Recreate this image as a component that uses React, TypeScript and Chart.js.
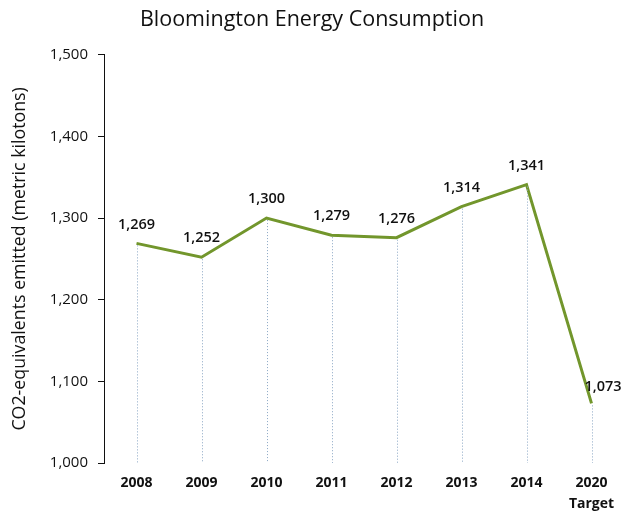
import React, { useEffect, useRef } from "react";
import { Chart, registerables } from "chart.js";

Chart.register(...registerables);

const categories: (string | string[])[] = ["2008", "2009", "2010", "2011", "2012", "2013", "2014", ["2020", "Target"]];
const emissions: number[] = [1269, 1252, 1300, 1279, 1276, 1314, 1341, 1073];
const yTicks: number[] = [1000, 1100, 1200, 1300, 1400, 1500];

const FONT = "'Open Sans', 'Liberation Sans', sans-serif";

const dropLinesAndLabels = {
  id: "dropLinesAndLabels",
  afterDatasetsDraw(chart: any) {
    const ctx = chart.ctx;
    const meta = chart.getDatasetMeta(0);
    const bottom = chart.chartArea.bottom;
    const data = chart.data.datasets[0].data as number[];
    ctx.save();
    ctx.strokeStyle = "#8aa6c4";
    ctx.lineWidth = 1;
    ctx.setLineDash([1, 2]);
    meta.data.forEach((pt: any) => {
      ctx.beginPath();
      ctx.moveTo(Math.round(pt.x) + 0.5, pt.y + 2);
      ctx.lineTo(Math.round(pt.x) + 0.5, bottom);
      ctx.stroke();
    });
    ctx.setLineDash([]);
    ctx.fillStyle = "#111";
    ctx.font = `600 14.5px ${FONT}`;
    ctx.textBaseline = "middle";
    meta.data.forEach((pt: any, i: number) => {
      const label = data[i].toLocaleString("en-US");
      if (i === meta.data.length - 1) {
        ctx.textAlign = "left";
        ctx.fillText(label, pt.x - 7, pt.y - 17);
      } else {
        ctx.textAlign = "center";
        ctx.fillText(label, pt.x, pt.y - 19);
      }
    });
    ctx.restore();
  },
};

export default function App() {
  const ref = useRef<HTMLCanvasElement>(null);
  useEffect(() => {
    if (!ref.current) return;
    const chart = new Chart(ref.current, {
      type: "line",
      data: {
        labels: categories,
        datasets: [
          {
            data: emissions,
            borderColor: "#72962c",
            borderWidth: 3,
            pointRadius: 0,
            tension: 0,
            fill: false,
          },
        ],
      },
      options: {
        animation: false,
        responsive: false,
        maintainAspectRatio: false,
        layout: { padding: { right: 6, left: 0, top: 0, bottom: 0 } },
        plugins: {
          legend: { display: false },
          tooltip: { enabled: false },
          title: {
            display: true,
            text: "Bloomington Energy Consumption",
            color: "#111",
            font: { family: FONT, size: 21.5, weight: "normal" },
            padding: { top: 7, bottom: 22 },
          },
        },
        scales: {
          x: {
            type: "category",
            offset: true,
            grid: { display: false, drawTicks: false },
            border: { display: false },
            ticks: {
              color: "#111",
              font: { family: FONT, size: 14, weight: "bold", lineHeight: 1.5 },
              padding: 10,
              maxRotation: 0,
              autoSkip: false,
            },
            afterFit: (scale: any) => {
              scale.height = 50;
            },
          },
          y: {
            min: 1000,
            max: 1500,
            afterBuildTicks: (scale: any) => {
              scale.ticks = yTicks.map((v) => ({ value: v }));
            },
            grid: {
              display: true,
              drawOnChartArea: false,
              drawTicks: true,
              tickLength: 6,
              color: "#111",
            },
            border: { display: true, color: "#111", width: 1 },
            ticks: {
              color: "#111",
              font: { family: FONT, size: 15 },
              padding: 10,
              callback: (v: any) => Number(v).toLocaleString("en-US"),
            },
            title: {
              display: true,
              text: "CO2-equivalents emitted (metric kilotons)",
              color: "#111",
              font: { family: FONT, size: 17.8 },
              padding: { top: 9, bottom: 10 },
            },
            afterFit: (scale: any) => {
              scale.width = 104;
            },
          },
        },
      },
      plugins: [dropLinesAndLabels],
    });
    return () => chart.destroy();
  }, []);
  return (
    <div style={{ position: "fixed", left: 0, top: 0, width: 630, height: 513, background: "#fff" }}>
      <canvas ref={ref} width={630} height={513} style={{ width: 630, height: 513 }} />
    </div>
  );
}
